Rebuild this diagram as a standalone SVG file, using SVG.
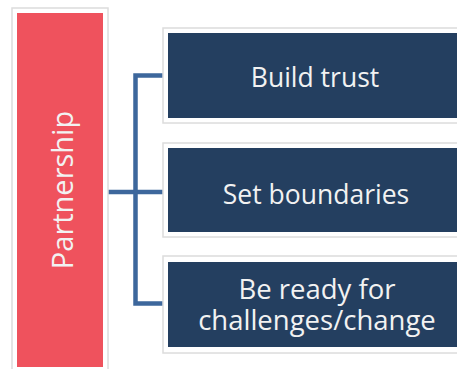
<svg xmlns="http://www.w3.org/2000/svg" width="457" height="369" viewBox="0 0 457 369">
<style>
.frame{fill:#ffffff;stroke:#dcdcdc;stroke-width:1.5}
.item{fill:#243f60}
.lbl{font-family:"Open Sans","Noto Sans",sans-serif;font-size:26.5px;fill:#f2f2f2;text-anchor:middle}
.conn{fill:none;stroke:#3d679c;stroke-width:4.5;stroke-linejoin:miter}
</style>
<rect x="0" y="0" width="457" height="369" fill="#ffffff"/>
<g id="connectors">
<path class="conn" d="M108 192 H165"/>
<path class="conn" d="M165 75.5 H135.5 V303.5 H165"/>
</g>
<g id="partnership">
<rect class="frame" x="12" y="8" width="96" height="365"/>
<rect x="17" y="13" width="86" height="354" fill="#ef525d"/>
<text class="lbl" transform="translate(72.5 190) rotate(-90)" style="font-size:29px">Partnership</text>
</g>
<g id="build-trust">
<rect class="frame" x="163" y="28" width="310" height="95"/>
<rect class="item" x="168" y="33" width="300" height="85"/>
<text class="lbl" x="315" y="87">Build trust</text>
</g>
<g id="set-boundaries">
<rect class="frame" x="163" y="143" width="310" height="94"/>
<rect class="item" x="168" y="148" width="300" height="84"/>
<text class="lbl" x="316" y="204">Set boundaries</text>
</g>
<g id="be-ready">
<rect class="frame" x="163" y="256" width="310" height="97"/>
<rect class="item" x="168" y="262" width="300" height="85"/>
<text class="lbl" style="font-size:27.5px"><tspan x="317" y="298.5">Be ready for</tspan><tspan x="317" y="330">challenges/change</tspan></text>
</g>
</svg>
